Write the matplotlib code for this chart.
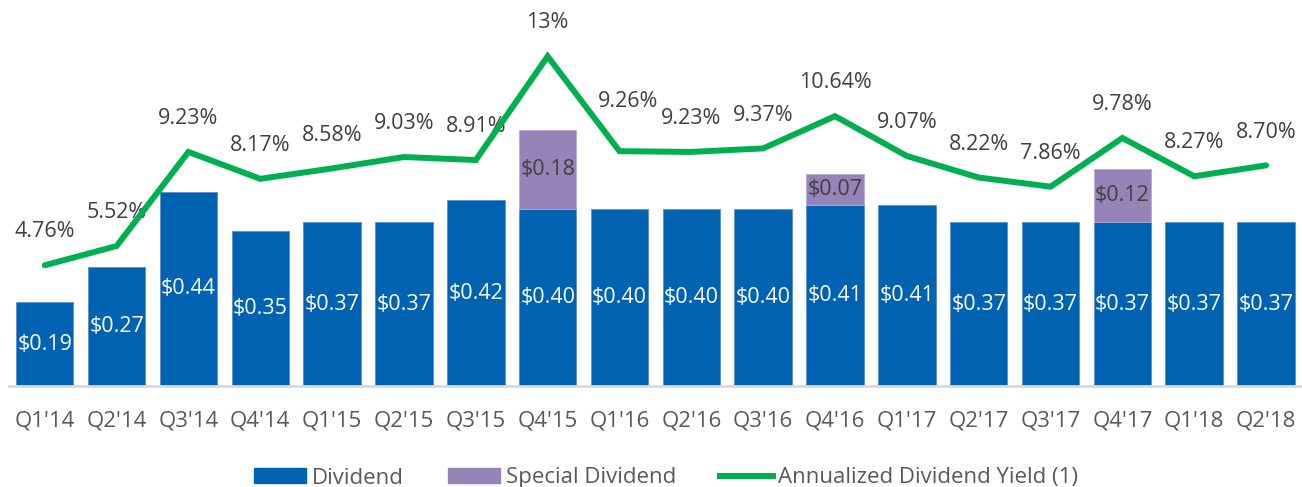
import matplotlib
matplotlib.use("Agg")
import matplotlib.pyplot as plt
from matplotlib.patches import Patch
from matplotlib.lines import Line2D

plt.rcParams['font.family'] = ['Open Sans', 'DejaVu Sans']

quarters = ["Q1'14", "Q2'14", "Q3'14", "Q4'14", "Q1'15", "Q2'15", "Q3'15", "Q4'15", "Q1'16",
            "Q2'16", "Q3'16", "Q4'16", "Q1'17", "Q2'17", "Q3'17", "Q4'17", "Q1'18", "Q2'18"]
dividend = [0.19, 0.27, 0.44, 0.35, 0.37, 0.37, 0.42, 0.40, 0.40,
            0.40, 0.40, 0.41, 0.41, 0.37, 0.37, 0.37, 0.37, 0.37]
special = [0, 0, 0, 0, 0, 0, 0, 0.18, 0,
           0, 0, 0.07, 0, 0, 0, 0.12, 0, 0]
yield_pct = [4.76, 5.52, 9.23, 8.17, 8.58, 9.03, 8.91, 13.0, 9.26,
             9.23, 9.37, 10.64, 9.07, 8.22, 7.86, 9.78, 8.27, 8.70]
yield_labels = ["4.76%", "5.52%", "9.23%", "8.17%", "8.58%", "9.03%", "8.91%", "13%", "9.26%",
                "9.23%", "9.37%", "10.64%", "9.07%", "8.22%", "7.86%", "9.78%", "8.27%", "8.70%"]

blue = "#0063B1"
purple = "#9683B8"
green = "#00B050"
dark = "#404040"
grey = "#595959"
fs = 15.5

fig = plt.figure(figsize=(13.02, 4.87), dpi=100)
ax = fig.add_axes([8.8 / 1302, 101 / 487, (1302 - 8.8) / 1302, 366 / 487])
x = list(range(len(quarters)))

ax.bar(x, dividend, width=0.8, color=blue, edgecolor="#5B8FD0", linewidth=0.6, zorder=2)
ax.bar(x, special, width=0.8, bottom=dividend, color=purple, edgecolor="#B9AAD3",
       linewidth=[0.6 if s > 0 else 0 for s in special], zorder=2)

for i in x:
    ax.text(i, dividend[i] / 2, "$%.2f" % dividend[i], ha="center", va="center",
            color="white", fontsize=fs, zorder=3)
    if special[i] > 0:
        ax.text(i, dividend[i] + special[i] / 2, "$%.2f" % special[i], ha="center", va="center",
                color=dark, fontsize=fs, zorder=3)

ax.set_xlim(-0.5, len(quarters) - 0.5)
ax.set_ylim(0, 366 / 442)
ax.set_yticks([])
ax.set_xticks(x)
ax.set_xticklabels(quarters, fontsize=16, color=grey)
ax.tick_params(axis="x", length=0, pad=18)
for s in ["top", "right", "left"]:
    ax.spines[s].set_visible(False)
ax.spines["bottom"].set_color("#D9D9D9")
ax.spines["bottom"].set_linewidth(2)

ax2 = ax.twinx()
ax2.plot(x, yield_pct, color=green, linewidth=4.3, solid_capstyle="round", solid_joinstyle="miter", zorder=4)
ax2.set_ylim(0, 366 / 25.36)
ax2.axis("off")

# label nudges (points)
nudge = {8: (6.5, 36)}
for i in x:
    dx, dy = nudge.get(i, (0, 24))
    ax2.annotate(yield_labels[i], (i, yield_pct[i]), xytext=(dx, dy), textcoords="offset points",
                 ha="center", va="center", fontsize=fs, color=dark)

handles = [Patch(color=blue), Patch(color=purple), Line2D([], [], color=green, linewidth=4.3)]
fig.legend(handles, ["Dividend", "Special Dividend", "Annualized Dividend Yield (1)"],
           loc="center", bbox_to_anchor=(666 / 1302, 9 / 487), ncol=3, frameon=False,
           fontsize=16, labelcolor=grey, handlelength=2.35, handleheight=0.68,
           handletextpad=0.25, columnspacing=2.0, borderpad=0, borderaxespad=0)

fig.savefig("out.png", dpi=100)
